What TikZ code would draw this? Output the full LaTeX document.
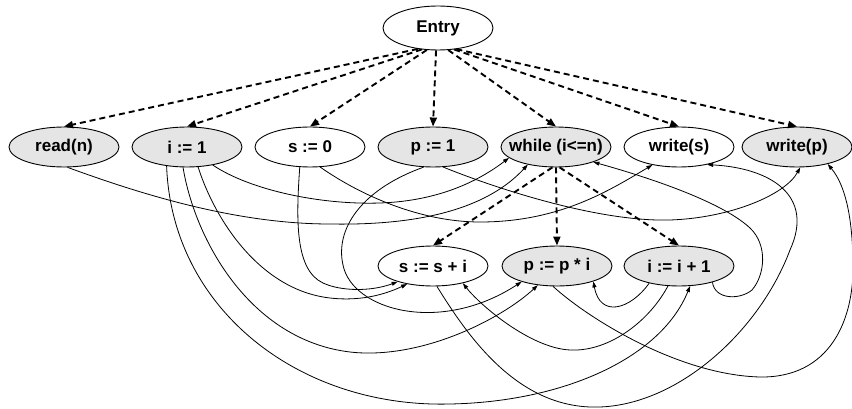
\documentclass[tikz,border=0pt]{standalone}
\usepackage{fontspec}
\setsansfont{Liberation Sans}
\usetikzlibrary{shapes.geometric,arrows.meta}

\begin{document}
\begin{tikzpicture}[x=1pt, y=-1pt,
    stmt/.style={ellipse, draw, line width=0.9pt, minimum width=110pt, minimum height=40pt,
      inner xsep=-14pt, inner ysep=0pt, font=\sffamily\bfseries\fontsize{17}{19}\selectfont},
    shaded/.style={stmt, fill=black!10},
    ctrl/.style={line width=1.9pt, dash pattern=on 6pt off 4pt, -{Triangle[length=9pt,width=7pt]}},
    dep/.style={line width=0.8pt, -{Triangle[length=6pt,width=4pt]}}]
      \useasboundingbox (0,0) rectangle (852,409);

      \node[stmt, minimum height=44pt] (entry) at (438,28) {Entry};

      \node[shaded] (readn) at (64,147) {read(n)};
      \node[shaded] (ione) at (187,147) {i := 1};
      \node[stmt] (szero) at (310,147) {s := 0};
      \node[shaded] (pone) at (433,147) {p := 1};
      \node[shaded] (loop) at (556,147) {while (i<=n)};
      \node[stmt] (writes) at (679,147) {write(s)};
      \node[shaded] (writep) at (797,147) {write(p)};

      \node[stmt] (sadd) at (433,266) {s := s + i};
      \node[shaded] (pmul) at (557,266) {p := p * i};
      \node[shaded] (iinc) at (679,266) {i := i + 1};

      \draw[ctrl] (entry.-134) -- (readn.north);
      \draw[ctrl] (entry.-127) -- (ione.north);
      \draw[ctrl] (entry.-117) -- (szero.north);
      \draw[ctrl] (entry.-95) -- (pone.north);
      \draw[ctrl] (entry.-65) -- (loop.north);
      \draw[ctrl] (entry.-53) -- (writes.north);
      \draw[ctrl] (entry.-49) -- (writep.north);

      \draw[ctrl] (loop.-100) -- (sadd.north);
      \draw[ctrl] (loop.-90) -- (pmul.north);
      \draw[ctrl] (loop.-80) -- (iinc.north);

      \draw[dep] (readn.-80) .. controls (130,190) and (230,224) .. (330,224)
        .. controls (440,226) and (495,200) .. (loop.-148);
      \draw[dep] (ione.-35) .. controls (250,190) and (320,205) .. (380,203)
        .. controls (440,201) and (480,180) .. (loop.-167);
      \draw[dep] (iinc.-26) .. controls (715,300) and (740,300) .. (752,290)
        .. controls (765,275) and (768,245) .. (750,228)
        .. controls (720,200) and (640,175) .. (loop.-22);

      \draw[dep] (szero.-117) .. controls (296,220) and (295,270) .. (323,283)
        .. controls (340,291) and (370,292) .. (sadd.-156);
      \draw[dep] (ione.-61) .. controls (215,220) and (260,290) .. (330,298)
        .. controls (365,302) and (390,292) .. (sadd.-145);
      \draw[dep] (iinc.-119) .. controls (650,320) and (610,352) .. (570,350)
        .. controls (530,348) and (480,305) .. (sadd.-30);

      \draw[dep] (pone.-115) .. controls (360,190) and (335,230) .. (343,265)
        .. controls (352,310) and (440,335) .. (pmul.-156);
      \draw[dep] (ione.-101) .. controls (195,240) and (250,340) .. (350,352)
        .. controls (420,360) and (500,320) .. (pmul.-135);
      \draw[dep] (iinc.-150) .. controls (630,310) and (600,318) .. (pmul.-23);

      \draw[dep] (ione.-137) .. controls (172,310) and (300,408) .. (450,404)
        .. controls (560,402) and (660,360) .. (iinc.-61);

      \draw[dep] (szero.-63) .. controls (360,195) and (420,222) .. (480,222)
        .. controls (560,222) and (610,190) .. (writes.-146);
      \draw[dep] (sadd.-79) .. controls (470,340) and (520,410) .. (600,407)
        .. controls (680,404) and (760,330) .. (790,250)
        .. controls (815,195) and (770,168) .. (writes.-32);

      \draw[dep] (pone.-63) .. controls (500,190) and (600,222) .. (670,220)
        .. controls (730,218) and (785,195) .. (writep.-81);
      \draw[dep] (pmul.-101) .. controls (590,320) and (680,375) .. (760,377)
        .. controls (830,378) and (855,320) .. (853,260)
        .. controls (852,215) and (845,185) .. (writep.-29);
    \end{tikzpicture}
\end{document}
